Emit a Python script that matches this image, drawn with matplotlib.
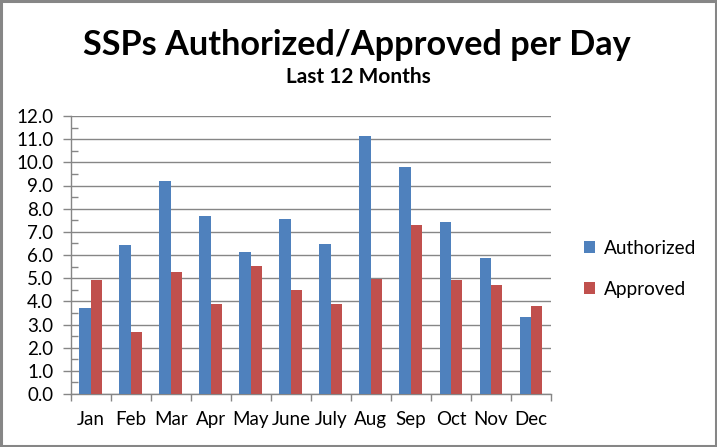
import matplotlib
matplotlib.use("Agg")
import matplotlib.pyplot as plt
import numpy as np
from matplotlib.patches import Rectangle
from matplotlib.ticker import MultipleLocator, FixedLocator

months = ["Jan", "Feb", "Mar", "Apr", "May", "June", "July", "Aug", "Sep", "Oct", "Nov", "Dec"]
authorized = [3.71, 6.43, 9.19, 7.68, 6.13, 7.55, 6.47, 11.14, 9.80, 7.42, 5.87, 3.32]
approved = [4.92, 2.68, 5.27, 3.88, 5.53, 4.49, 3.88, 4.96, 7.29, 4.92, 4.71, 3.80]
yticks = [0, 1, 2, 3, 4, 5, 6, 7, 8, 9, 10, 11, 12]

plt.rcParams['font.family'] = ['Lato', 'DejaVu Sans']

fig = plt.figure(figsize=(7.17, 4.47), dpi=100)
fig.patches.append(Rectangle((0.0015, 0.002), 0.997, 0.995, transform=fig.transFigure,
                             fill=False, edgecolor='#868686', linewidth=2.2, zorder=10))

ax = fig.add_axes([70.7 / 717, 53 / 447, 480.3 / 717, 278 / 447])
x = np.arange(len(months))
w = 0.2857
ax.bar(x - w / 2, authorized, w, color='#4F81BD', label='Authorized', zorder=3)
ax.bar(x + w / 2, approved, w, color='#C0504D', label='Approved', zorder=3)

ax.set_xlim(-0.5, len(months) - 0.5)
ax.set_ylim(0, 12)
ax.set_yticks(yticks)
ax.set_yticklabels([f"{v:.1f}" for v in yticks], fontsize=13.5)
ax.yaxis.set_minor_locator(MultipleLocator(0.5))
ax.tick_params(axis='y', which='major', direction='out', length=5.5, color='#868686', width=1, pad=7)
ax.tick_params(axis='y', which='minor', direction='in', length=5, color='#868686', width=1)
ax.grid(axis='y', which='major', color='#868686', linewidth=1, zorder=0)

ax.set_xticks(x)
ax.set_xticklabels(months, fontsize=13.5)
ax.xaxis.set_minor_locator(FixedLocator(np.arange(-0.5, len(months), 1.0)))
ax.tick_params(axis='x', which='major', length=0, pad=12)
ax.tick_params(axis='x', which='minor', direction='out', length=5, color='#868686', width=1)

for s in ['top', 'right']:
    ax.spines[s].set_visible(False)
for s in ['left', 'bottom']:
    ax.spines[s].set_color('#868686')
    ax.spines[s].set_linewidth(1)

fig.text(357 / 717, 1 - 45 / 447, "SSPs Authorized/Approved per Day", ha='center', va='center',
         fontsize=24.7, fontweight='bold')
fig.text(358 / 717, 1 - 77 / 447, "Last 12 Months", ha='center', va='center',
         fontsize=15, fontweight='bold')

leg = ax.legend(loc='center left', bbox_to_anchor=(584 / 717, 1 - 269 / 447), bbox_transform=fig.transFigure,
                frameon=False, fontsize=13.7, handlelength=0.6, handleheight=0.6,
                handletextpad=0.45, labelspacing=1.25, borderpad=0, borderaxespad=0)

fig.savefig("out.png", dpi=100)
